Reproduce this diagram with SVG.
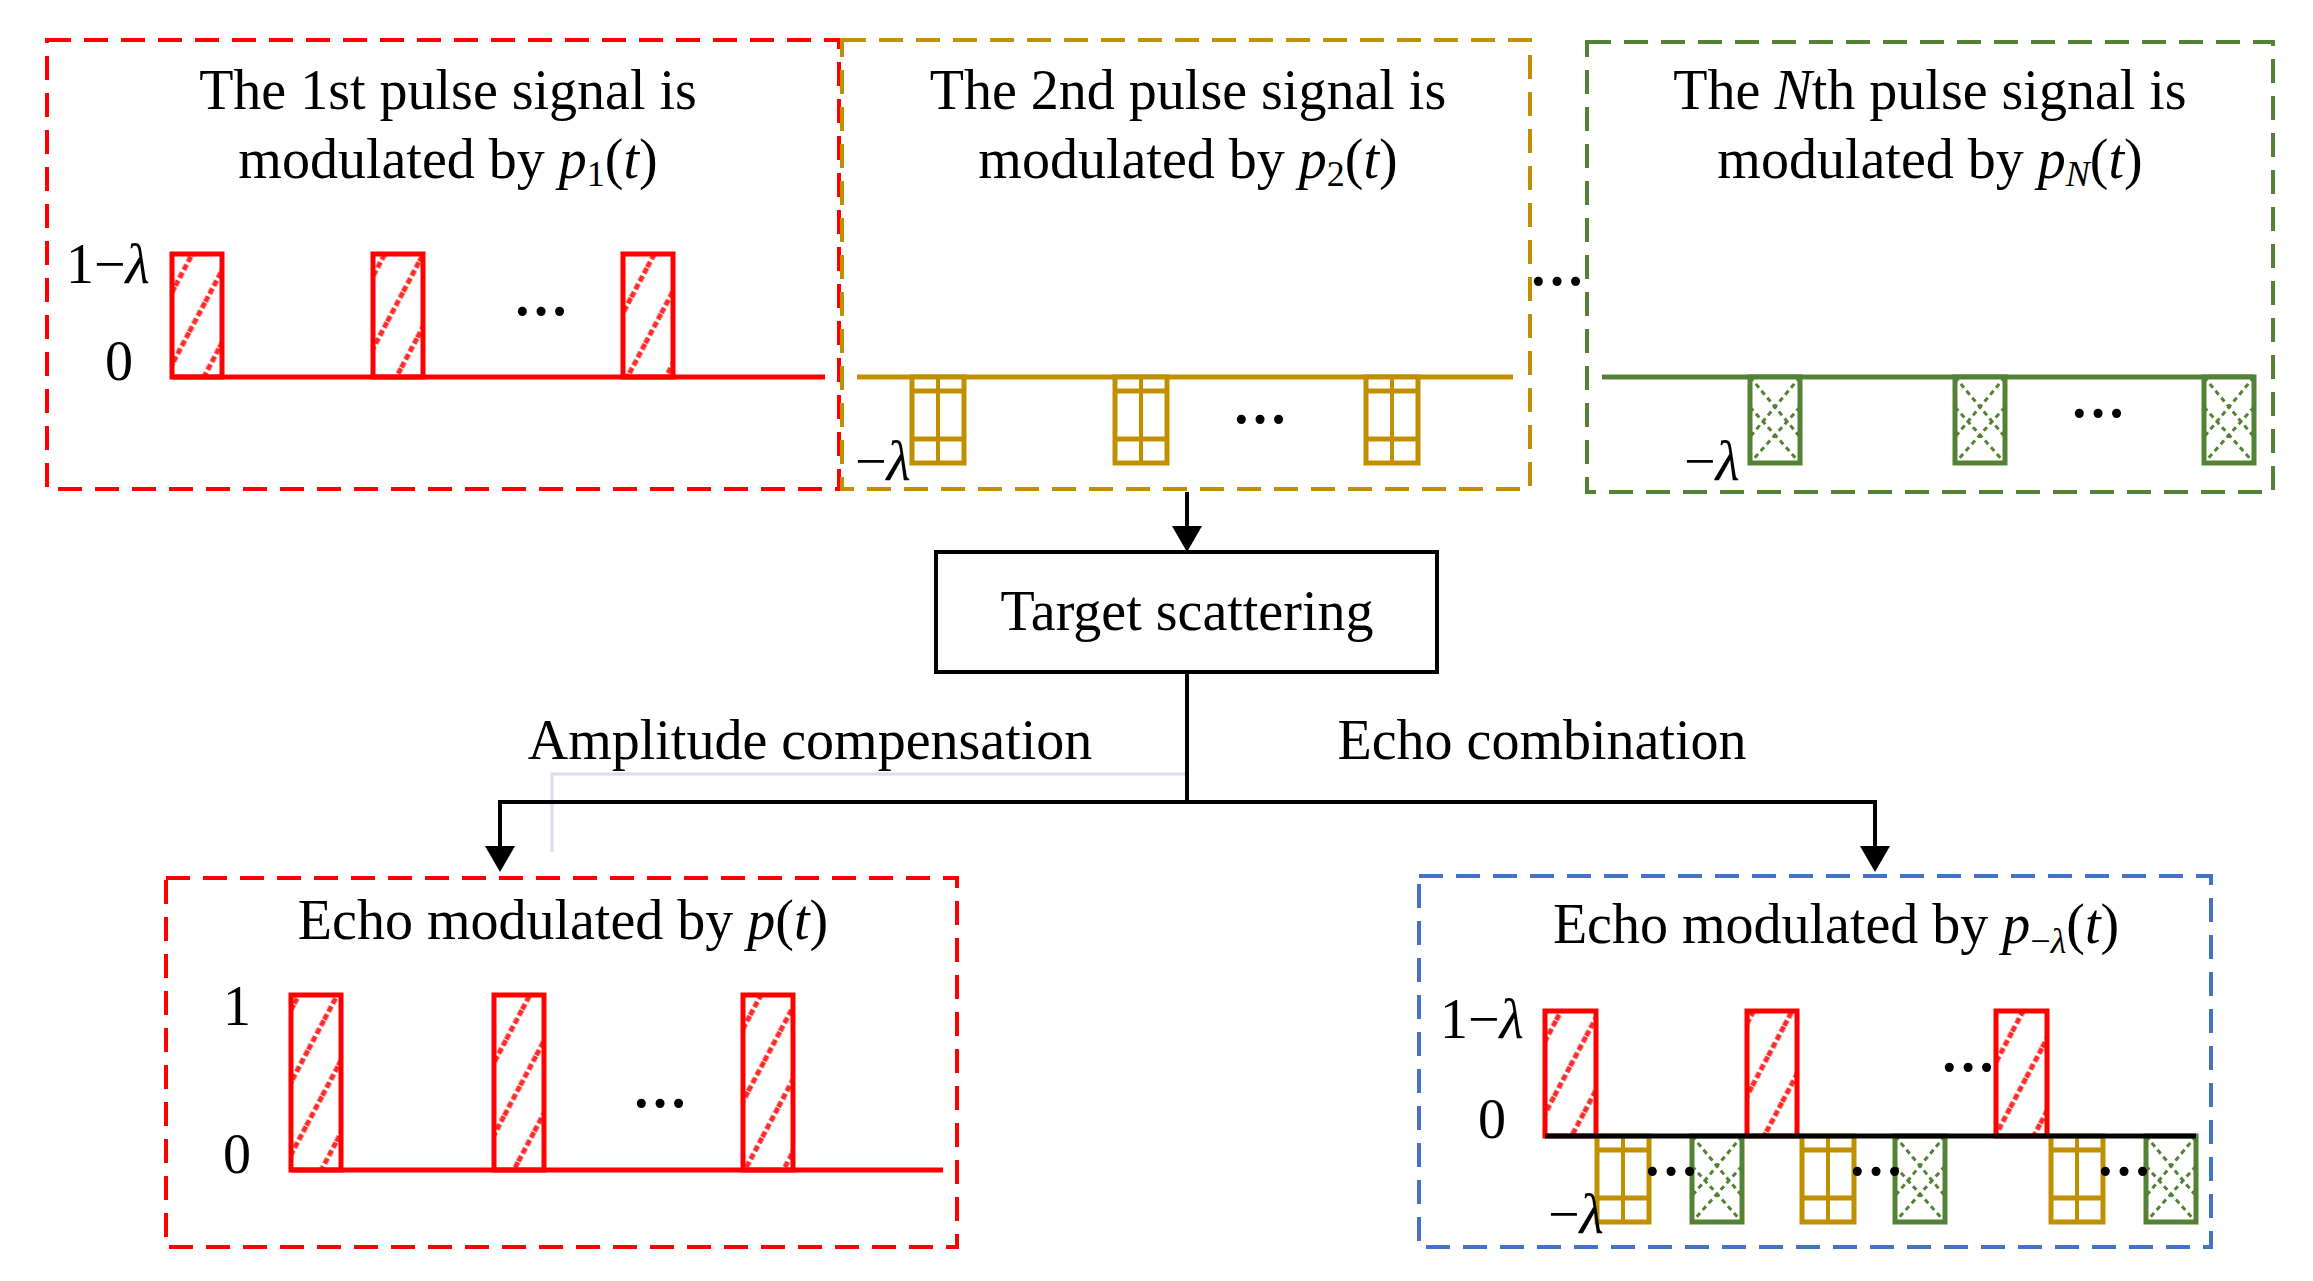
<svg xmlns="http://www.w3.org/2000/svg" width="2313" height="1281" viewBox="0 0 2313 1281">
<style>
text{font-family:"Liberation Serif","Times New Roman",serif;font-size:56px;fill:#000}
.c{text-anchor:middle}
.i{font-style:italic}
.s{font-size:36px}
.box{fill:none;stroke-width:4;stroke-dasharray:24 13}
.red{stroke:#ff0000}
.rp{fill:url(#hatch);stroke:#ff0000;stroke-width:5}
.ax{stroke-width:5;fill:none}
.k{stroke:#000;stroke-width:4;fill:none}
</style>
<defs>
<pattern id="hatch" patternUnits="userSpaceOnUse" width="34" height="34" patternTransform="rotate(-62)">
<rect width="34" height="34" fill="#fff"/>
<line x1="0" y1="17" x2="34" y2="17" stroke="#ff2a2a" stroke-width="5" stroke-dasharray="6 3"/>
</pattern>
<g id="gp">
<rect x="0" y="0" width="52" height="86" fill="#fff" stroke="#c09000" stroke-width="5"/>
<line x1="26" y1="0" x2="26" y2="86" stroke="#c09000" stroke-width="4"/>
<line x1="0" y1="14" x2="52" y2="14" stroke="#c09000" stroke-width="5"/>
<line x1="0" y1="62" x2="52" y2="62" stroke="#c09000" stroke-width="5"/>
</g>
<g id="np">
<rect x="0" y="0" width="50" height="86" fill="#fff" stroke="#548235" stroke-width="5"/>
<path d="M0 0 L50 60 M50 0 L0 60 M0 30 L50 86 M50 30 L0 86" stroke="#548235" stroke-width="3" stroke-dasharray="5 4" fill="none"/>
</g>
</defs>

<g id="connectors">
<polyline points="1187,774 552,774 552,852" fill="none" stroke="#dcdcf0" stroke-width="3"/>
<line class="k" x1="1187" y1="492" x2="1187" y2="530"/>
<polygon points="1172,526 1202,526 1187,552"/>
<line class="k" x1="1187" y1="672" x2="1187" y2="802"/>
<polyline class="k" points="500,848 500,802 1875,802 1875,848"/>
<polygon points="485,846 515,846 500,872"/>
<polygon points="1860,846 1890,846 1875,872"/>
<text class="c" x="810" y="759">Amplitude compensation</text>
<text class="c" x="1542" y="759">Echo combination</text>
</g>

<g id="pulse1">
<rect class="box red" x="47" y="40" width="792" height="449"/>
<text class="c" x="448" y="109">The 1st pulse signal is</text>
<text class="c" x="448" y="178">modulated by <tspan class="i">p</tspan><tspan class="s" dy="8">1</tspan><tspan dy="-8">(</tspan><tspan class="i">t</tspan>)</text>
<rect class="rp" x="172" y="254" width="50" height="123"/>
<rect class="rp" x="373" y="254" width="50" height="123"/>
<rect class="rp" x="623" y="254" width="50" height="123"/>
<line class="ax" stroke="#ff0000" x1="172" y1="377" x2="825" y2="377"/>
<text x="66" y="283">1−<tspan class="i">λ</tspan></text>
<text class="c" x="119" y="380">0</text>
<text class="c" x="541" y="330" font-weight="bold">···</text>
</g>

<g id="pulse2">
<rect class="box" stroke="#c09000" x="842" y="40" width="688" height="449"/>
<text class="c" x="1188" y="109">The 2nd pulse signal is</text>
<text class="c" x="1188" y="178">modulated by <tspan class="i">p</tspan><tspan class="s" dy="8">2</tspan><tspan dy="-8">(</tspan><tspan class="i">t</tspan>)</text>
<line class="ax" stroke="#c09000" x1="857" y1="377" x2="1513" y2="377"/>
<use href="#gp" x="912" y="377"/>
<use href="#gp" x="1115" y="377"/>
<use href="#gp" x="1366" y="377"/>
<text x="855" y="480">−<tspan class="i">λ</tspan></text>
<text class="c" x="1260" y="438" font-weight="bold">···</text>
</g>

<text class="c" x="1557" y="300" font-weight="bold">···</text>

<g id="pulseN">
<rect class="box" stroke="#548235" x="1587" y="42" width="686" height="450"/>
<text class="c" x="1930" y="109">The <tspan class="i">N</tspan>th pulse signal is</text>
<text class="c" x="1930" y="178">modulated by <tspan class="i">p</tspan><tspan class="s i" dy="8">N</tspan><tspan dy="-8">(</tspan><tspan class="i">t</tspan>)</text>
<line class="ax" stroke="#548235" x1="1602" y1="377" x2="2254" y2="377"/>
<use href="#np" x="1750" y="377"/>
<use href="#np" x="1955" y="377"/>
<use href="#np" x="2204" y="377"/>
<text x="1684" y="480">−<tspan class="i">λ</tspan></text>
<text class="c" x="2098" y="432" font-weight="bold">···</text>
</g>

<g id="target">
<rect x="936" y="552" width="501" height="120" fill="#fff" stroke="#000" stroke-width="4"/>
<text class="c" x="1187" y="630">Target scattering</text>
</g>

<g id="echo1">
<rect class="box red" x="166" y="878" width="791" height="369"/>
<text class="c" x="563" y="939">Echo modulated by <tspan class="i">p</tspan>(<tspan class="i">t</tspan>)</text>
<rect class="rp" x="291" y="995" width="50" height="175"/>
<rect class="rp" x="494" y="995" width="50" height="175"/>
<rect class="rp" x="743" y="995" width="50" height="175"/>
<line class="ax" stroke="#ff0000" x1="291" y1="1170" x2="943" y2="1170"/>
<text class="c" x="237" y="1025">1</text>
<text class="c" x="237" y="1173">0</text>
<text class="c" x="660" y="1122" font-weight="bold">···</text>
</g>

<g id="echo2">
<rect class="box" stroke="#4472c4" x="1419" y="876" width="792" height="371"/>
<text class="c" x="1836" y="943">Echo modulated by <tspan class="i">p</tspan><tspan class="s" dy="10">−<tspan class="i">λ</tspan></tspan><tspan dy="-10">(</tspan><tspan class="i">t</tspan>)</text>
<rect class="rp" x="1545" y="1011" width="51" height="125"/>
<rect class="rp" x="1747" y="1011" width="50" height="125"/>
<rect class="rp" x="1996" y="1011" width="51" height="125"/>
<use href="#gp" x="1597" y="1136"/>
<use href="#gp" x="1802" y="1136"/>
<use href="#gp" x="2051" y="1136"/>
<use href="#np" x="1692" y="1136"/>
<use href="#np" x="1895" y="1136"/>
<use href="#np" x="2146" y="1136"/>
<line class="ax" stroke="#000" stroke-width="6" x1="1545" y1="1136" x2="2196" y2="1136"/>
<text x="1440" y="1038">1−<tspan class="i">λ</tspan></text>
<text class="c" x="1492" y="1138">0</text>
<text x="1548" y="1233">−<tspan class="i">λ</tspan></text>
<text class="c" x="1671" y="1190" font-weight="bold" font-size="44">···</text>
<text class="c" x="1876" y="1190" font-weight="bold" font-size="44">···</text>
<text class="c" x="2124" y="1190" font-weight="bold" font-size="44">···</text>
<text class="c" x="1968" y="1086" font-weight="bold" font-size="44">···</text>
</g>
</svg>
